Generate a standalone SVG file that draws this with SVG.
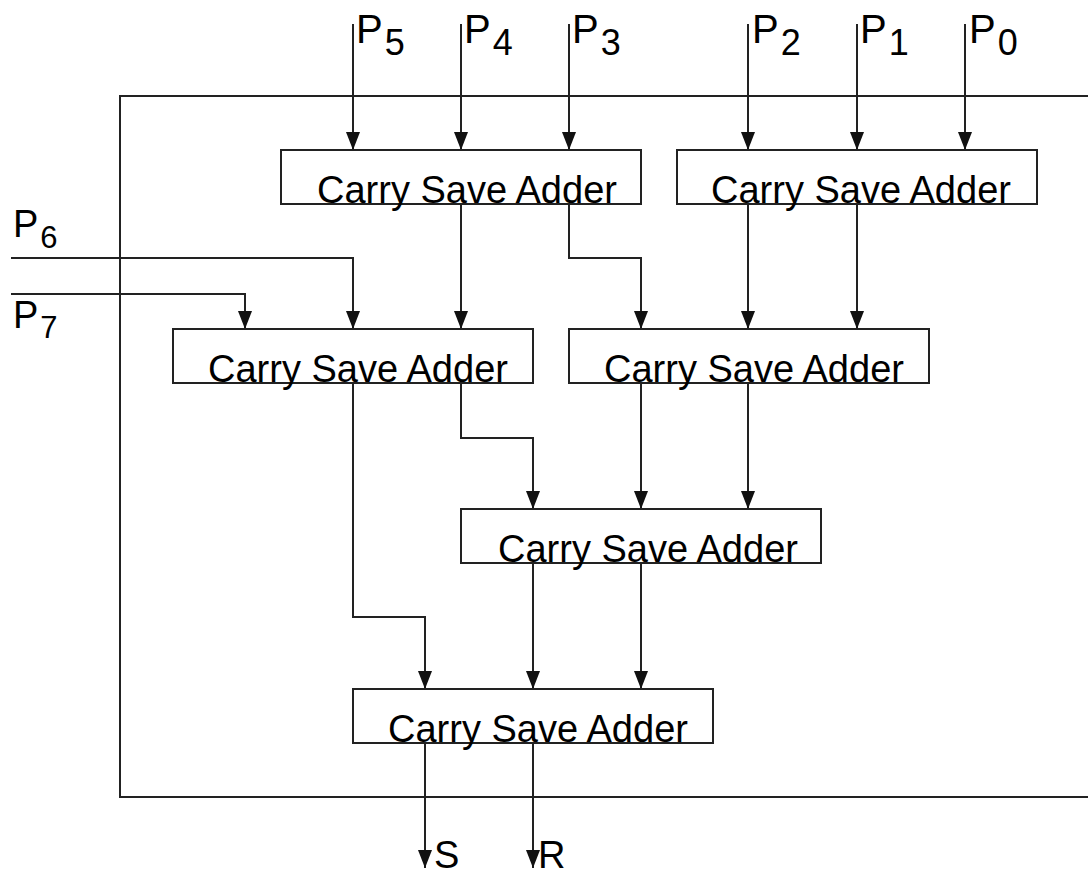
<svg xmlns="http://www.w3.org/2000/svg" width="1088" height="874" viewBox="0 0 1088 874">
<style>
.ln{fill:none;stroke:#222;stroke-width:2}
.bx{fill:none;stroke:#222;stroke-width:2}
.t{font-family:"Liberation Sans",Arial,sans-serif;font-size:38px;fill:#000}
.p{font-size:40px}
.s{font-size:36px}
.p2{font-size:38px}
.s2{font-size:31px}
</style>
<defs>
<marker id="ah" markerUnits="userSpaceOnUse" markerWidth="20" markerHeight="16" viewBox="-19 -8 20 16" refX="0" refY="0" orient="auto">
<path d="M0,0 L-18,-7 L-18,7 Z" fill="#111"/>
</marker>
</defs>
<rect id="frame" x="120" y="96" width="980" height="701" class="bx"/>
<g id="connectors" class="ln">
<path d="M353,24 V150" marker-end="url(#ah)"/>
<path d="M461,24 V150" marker-end="url(#ah)"/>
<path d="M569,24 V150" marker-end="url(#ah)"/>
<path d="M748,24 V150" marker-end="url(#ah)"/>
<path d="M857,24 V150" marker-end="url(#ah)"/>
<path d="M965,24 V150" marker-end="url(#ah)"/>
<path d="M11,258 H353 V329" marker-end="url(#ah)"/>
<path d="M11,294 H245 V329" marker-end="url(#ah)"/>
<path d="M461,204 V329" marker-end="url(#ah)"/>
<path d="M569,204 V258 H641 V329" marker-end="url(#ah)"/>
<path d="M748,204 V329" marker-end="url(#ah)"/>
<path d="M857,204 V329" marker-end="url(#ah)"/>
<path d="M461,383 V438 H533 V509" marker-end="url(#ah)"/>
<path d="M641,383 V509" marker-end="url(#ah)"/>
<path d="M748,383 V509" marker-end="url(#ah)"/>
<path d="M353,383 V617 H425 V689" marker-end="url(#ah)"/>
<path d="M533,563 V689" marker-end="url(#ah)"/>
<path d="M641,563 V689" marker-end="url(#ah)"/>
<path d="M425,743 V868" marker-end="url(#ah)"/>
<path d="M533,743 V868" marker-end="url(#ah)"/>
</g>
<g id="csa1"><rect x="281" y="150" width="360" height="54" class="bx"/><text x="317" y="203" class="t">Carry Save Adder</text></g>
<g id="csa2"><rect x="677" y="150" width="360" height="54" class="bx"/><text x="711" y="203" class="t">Carry Save Adder</text></g>
<g id="csa3"><rect x="173" y="329" width="360" height="54" class="bx"/><text x="208" y="382" class="t">Carry Save Adder</text></g>
<g id="csa4"><rect x="569" y="329" width="360" height="54" class="bx"/><text x="604" y="382" class="t">Carry Save Adder</text></g>
<g id="csa5"><rect x="461" y="509" width="360" height="54" class="bx"/><text x="498" y="562" class="t">Carry Save Adder</text></g>
<g id="csa6"><rect x="353" y="689" width="360" height="54" class="bx"/><text x="388" y="742" class="t">Carry Save Adder</text></g>
<g id="labels">
<text x="356" y="43" class="t p">P<tspan class="s" dx="2" dy="12">5</tspan></text>
<text x="464" y="43" class="t p">P<tspan class="s" dx="2" dy="12">4</tspan></text>
<text x="572" y="43" class="t p">P<tspan class="s" dx="2" dy="12">3</tspan></text>
<text x="752" y="43" class="t p">P<tspan class="s" dx="2" dy="12">2</tspan></text>
<text x="860" y="43" class="t p">P<tspan class="s" dx="2" dy="12">1</tspan></text>
<text x="969" y="43" class="t p">P<tspan class="s" dx="2" dy="12">0</tspan></text>
<text x="13" y="237" class="t p2">P<tspan class="s2" dx="2" dy="11">6</tspan></text>
<text x="13" y="328" class="t p2">P<tspan class="s2" dx="2" dy="10">7</tspan></text>
<text x="434" y="868" class="t">S</text>
<text x="538" y="868" class="t">R</text>
</g>
</svg>
